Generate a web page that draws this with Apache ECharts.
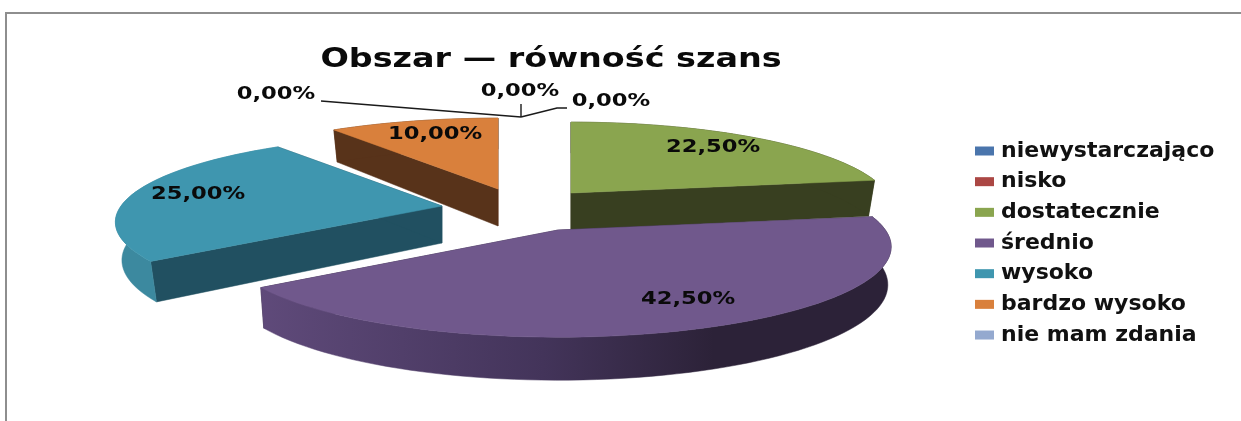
<!DOCTYPE html>
<html><head><meta charset="utf-8">
<style>html,body{margin:0;padding:0;background:#fff}#c{width:1241px;height:421px}</style>
<script src="https://cdn.jsdelivr.net/npm/echarts@6/dist/echarts.min.js"></script>
</head><body><div id="c"></div>
<script>
// ---- data ----
const titleText = 'Obszar — równość szans';
const categories = ['niewystarczająco','nisko','dostatecznie','średnio','wysoko','bardzo wysoko','nie mam zdania'];
const shares = [0, 0, 22.5, 42.5, 25, 10, 0];
// ---- styles ----
const topColors = ['#4a75ac','#ab4744','#8aa54f','#70588c','#3f96af','#d9803c','#94a9cf'];
const wallColors = ['#2c4668','#672a29','#383f20','#2c2238','#215061','#58331a','#58657c'];
// ---- layout of the 3D projection (explosion offset of each slice, label spots) ----
const apex = [[521,117],[521,117],[571,193],[558,230],[442,206],[498,189],[521,117]];
const labelSpots = [[276,95],[520,92],[713,148],[688,300],[198,195],[435,135],[611,102]];
const sliceScale = [1,1,0.985,1.02,1,1,1];
const sliceScaleY = [1,1,1,1.04,1,1,1];
const bottomX = [1,1,0.98,0.99,0.98,0.98,1];
const drawOrder = [0,1,6,5,2,4,3];
const leaderPts = [[[321,101],[521,117]],[[521,104],[521,117]],[[521,117],[557,108],[567,108]]];
const R = 321, H = 84, K = 0.185, WALL = 37, WALL_K = 6;

const starts = shares.map((_, i) => shares.slice(0, i).reduce((a, b) => a + b, 0) * 3.6);

function topPoint(i, deg){
  const t = deg * Math.PI / 180, u = Math.sin(t), v = Math.cos(t), d = 1 + K * v;
  return [apex[i][0] + sliceScale[i] * R * u / d, apex[i][1] - sliceScaleY[i] * H * v / d];
}
function lowPoint(i, deg){
  const p = topPoint(i, deg), v = Math.cos(deg * Math.PI / 180);
  return [apex[i][0] + (p[0] - apex[i][0]) * bottomX[i], p[1] + WALL - WALL_K * v];
}
function arc(fn, i, a, b){
  const pts = [], n = Math.max(2, Math.ceil((b - a) / 2));
  for (let s = 0; s <= n; s++) pts.push(fn(i, a + (b - a) * s / n));
  return pts;
}
function pct(v){ return v.toFixed(2).replace('.', ',') + '%'; }
function textEl(i, v){
  return {type:'text', z2:20, x:labelSpots[i][0], y:labelSpots[i][1], scaleX:1.33,
    style:{text:pct(v), align:'center', verticalAlign:'middle', fill:'#0a0a0a',
           font:'bold 17px "DejaVu Sans"'}};
}
function sideFill(i){
  if (i === 3) return new echarts.graphic.LinearGradient(260,0,890,0,[
    {offset:0,color:'#5f4a7a'},{offset:.45,color:'#43345a'},{offset:.72,color:'#2c2238'},{offset:1,color:'#2c2238'}],true);
  if (i === 4) return '#3c899f';
  return wallColors[i];
}
function renderSlice(i){
  return function(params, api){
    const value = api.value(0), sweep = value * 3.6, a = starts[i], b = a + sweep;
    if (!value) return {type:'group', children:[textEl(i, value)]};
    const A = apex[i], lowA = [A[0], A[1] + WALL], wall = wallColors[i];
    const topArc = arc(topPoint, i, a, b), lowArc = arc(lowPoint, i, a, b);
    const poly = (pts, fill) => ({type:'polygon', shape:{points:pts}, style:{fill, stroke:fill, lineWidth:.5}});
    return {type:'group', children:[
      poly([A, topPoint(i,a), lowPoint(i,a), lowA], wall),
      poly([A, topPoint(i,b), lowPoint(i,b), lowA], wall),
      poly(topArc.concat(lowArc.slice().reverse()), sideFill(i)),
      poly([A].concat(topArc), topColors[i]),
      textEl(i, value)
    ]};
  };
}
const seriesList = drawOrder.map(i => ({
  type:'custom', name:categories[i], coordinateSystem:'none', silent:true,
  itemStyle:{color:topColors[i]}, data:[[shares[i]]], renderItem:renderSlice(i), z:2
}));
const chart = echarts.init(document.getElementById('c'), null, {renderer:'canvas'});
chart.setOption({
  animation:false, backgroundColor:'#fff',
  legend:{data:categories, orient:'vertical', left:970, top:135, icon:'rect', itemWidth:19, itemHeight:9,
    itemGap:8.67, selectedMode:false,
    textStyle:{fontFamily:'DejaVu Sans', fontWeight:'bold', fontSize:22, color:'#111', padding:[0,0,0,2], lineHeight:22}},
  graphic:[
    {type:'polyline', shape:{points:[[6,421],[6,13],[1241,13]]}, style:{stroke:'#8e8e8e', lineWidth:2, fill:null}, z:1},
    {type:'text', x:551, y:60, scaleX:1.285, z:5,
      style:{text:titleText, align:'center', verticalAlign:'middle', fill:'#0a0a0a', font:'bold 26px "DejaVu Sans"'}}
  ].concat(leaderPts.map(p => ({type:'polyline', shape:{points:p}, style:{stroke:'#1a1a1a', lineWidth:1.4, fill:null}, z:5}))),
  series:seriesList
});
</script></body></html>
